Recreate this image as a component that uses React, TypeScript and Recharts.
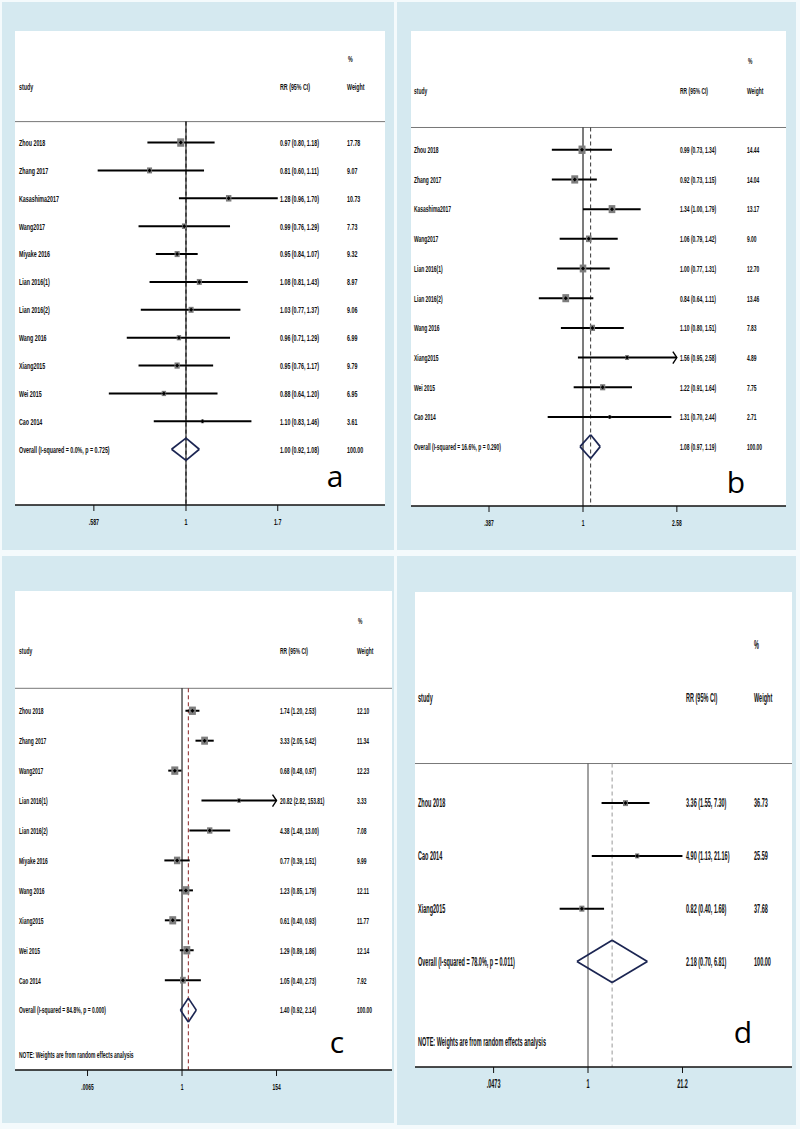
import React from "react";
import { ComposedChart, Scatter, XAxis, YAxis, ReferenceLine } from "recharts";

const FONT = "'Liberation Sans', Arial, sans-serif";

// ---- panel a ----
const studiesA = ["Zhou 2018", "Zhang 2017", "Kasashima2017", "Wang2017", "Miyake 2016", "Lian 2016(1)", "Lian 2016(2)", "Wang 2016", "Xiang2015", "Wei 2015", "Cao 2014"];
const rrA = [0.97, 0.81, 1.28, 0.99, 0.95, 1.08, 1.03, 0.96, 0.95, 0.88, 1.1];
const lowA = [0.8, 0.6, 0.96, 0.76, 0.84, 0.81, 0.77, 0.71, 0.76, 0.64, 0.83];
const highA = [1.18, 1.11, 1.7, 1.29, 1.07, 1.43, 1.37, 1.29, 1.17, 1.2, 1.46];
const weightA = [17.78, 9.07, 10.73, 7.73, 9.32, 8.97, 9.06, 6.99, 9.79, 6.95, 3.61];
const overallA = [1.0, 0.92, 1.08];
const ticksA = [0.587, 1, 1.7];
const tickLabelsA = [".587", "1", "1.7"];
const truncatedA: string[] = [];

// ---- panel b ----
const studiesB = ["Zhou 2018", "Zhang 2017", "Kasashima2017", "Wang2017", "Lian 2016(1)", "Lian 2016(2)", "Wang 2016", "Xiang2015", "Wei 2015", "Cao 2014"];
const rrB = [0.99, 0.92, 1.34, 1.06, 1.0, 0.84, 1.1, 1.56, 1.22, 1.31];
const lowB = [0.73, 0.73, 1.0, 0.79, 0.77, 0.64, 0.8, 0.95, 0.91, 0.7];
const highB = [1.34, 1.15, 1.79, 1.42, 1.31, 1.11, 1.51, 2.58, 1.64, 2.44];
const weightB = [14.44, 14.04, 13.17, 9.0, 12.7, 13.46, 7.83, 4.89, 7.75, 2.71];
const overallB = [1.08, 0.97, 1.19];
const ticksB = [0.387, 1, 2.58];
const tickLabelsB = [".387", "1", "2.58"];
const truncatedB = ["Xiang2015"];

// ---- panel c ----
const studiesC = ["Zhou 2018", "Zhang 2017", "Wang2017", "Lian 2016(1)", "Lian 2016(2)", "Miyake 2016", "Wang 2016", "Xiang2015", "Wei 2015", "Cao 2014"];
const rrC = [1.74, 3.33, 0.68, 20.82, 4.38, 0.77, 1.23, 0.61, 1.29, 1.05];
const lowC = [1.2, 2.05, 0.48, 2.82, 1.48, 0.39, 0.85, 0.4, 0.89, 0.4];
const highC = [2.53, 5.42, 0.97, 153.81, 13.0, 1.51, 1.79, 0.93, 1.86, 2.73];
const weightC = [12.1, 11.34, 12.23, 3.33, 7.08, 9.99, 12.11, 11.77, 12.14, 7.92];
const overallC = [1.4, 0.92, 2.14];
const ticksC = [0.0065, 1, 154];
const tickLabelsC = [".0065", "1", "154"];
const truncatedC = ["Lian 2016(1)"];

// ---- panel d ----
const studiesD = ["Zhou 2018", "Cao 2014", "Xiang2015"];
const rrD = [3.36, 4.9, 0.82];
const lowD = [1.55, 1.13, 0.4];
const highD = [7.3, 21.16, 1.68];
const weightD = [36.73, 25.59, 37.68];
const overallD = [2.18, 0.7, 6.81];
const ticksD = [0.0473, 1, 21.2];
const tickLabelsD = [".0473", "1", "21.2"];
const truncatedD: string[] = [];

const NOTE = "NOTE: Weights are from random effects analysis";

interface Panel {
  letter: string;
  frame: [number, number, number, number];
  left: number;
  top: number;
  width: number;
  plotH: number;
  xDomain: [number, number];
  xTicks: number[];
  xTickLabels: string[];
  yDomain: [number, number];
  studies: string[];
  rr: number[];
  low: number[];
  high: number[];
  weight: number[];
  overall: number[];
  truncated: string[];
  overallLabel: string;
  note?: number;
  cols: number[];
  fs: number;
  sx: number;
  boxK: number;
  nullColor: string;
  dashColor: string;
  letterPos: [number, number];
}

const panels: Panel[] = [
  {
    letter: "a", frame: [2, 2, 392, 548], left: 15, top: 31, width: 370, plotH: 474,
    xDomain: [0.372, 3.161], xTicks: ticksA, xTickLabels: tickLabelsA, yDomain: [-4, 13],
    studies: studiesA, rr: rrA, low: lowA, high: highA, weight: weightA, overall: overallA, truncated: truncatedA,
    overallLabel: "Overall  (I-squared = 0.0%, p = 0.725)",
    cols: [4, 265, 332, 333], fs: 9.5, sx: 0.56, boxK: 1.66, nullColor: "#111", dashColor: "#111",
    letterPos: [335, 487],
  },
  {
    letter: "b", frame: [397, 2, 399, 548], left: 411, top: 31, width: 375, plotH: 475,
    xDomain: [0.176, 7.77], xTicks: ticksB, xTickLabels: tickLabelsB, yDomain: [-4, 12],
    studies: studiesB, rr: rrB, low: lowB, high: highB, weight: weightB, overall: overallB, truncated: truncatedB,
    overallLabel: "Overall  (I-squared = 16.6%, p = 0.290)",
    cols: [3, 269, 336, 337], fs: 9.5, sx: 0.52, boxK: 1.84, nullColor: "#111", dashColor: "#333",
    letterPos: [736, 493],
  },
  {
    letter: "c", frame: [2, 556, 392, 567], left: 15, top: 591, width: 377, plotH: 479,
    xDomain: [0.000136, 72600], xTicks: ticksC, xTickLabels: tickLabelsC, yDomain: [-4, 12],
    studies: studiesC, rr: rrC, low: lowC, high: highC, weight: weightC, overall: overallC, truncated: truncatedC,
    overallLabel: "Overall  (I-squared = 84.8%, p = 0.000)", note: 11.5,
    cols: [4, 265, 342, 343], fs: 9.5, sx: 0.52, boxK: 2.0, nullColor: "#111", dashColor: "#8b2323",
    letterPos: [337, 1053],
  },
  {
    letter: "d", frame: [397, 556, 399, 569], left: 415, top: 592, width: 377, plotH: 475,
    xDomain: [0.00373, 730], xTicks: ticksD, xTickLabels: tickLabelsD, yDomain: [-4, 5],
    studies: studiesD, rr: rrD, low: lowD, high: highD, weight: weightD, overall: overallD, truncated: truncatedD,
    overallLabel: "Overall  (I-squared = 78.0%, p = 0.011)", note: 4.53,
    cols: [3, 271, 339, 339], fs: 12, sx: 0.46, boxK: 0.82, nullColor: "#555", dashColor: "#999",
    letterPos: [743, 1043],
  },
];

const fmt = (v: number) => v.toFixed(2);

function NarrowText({ x, y, fs, sx, anchor = "start", children }: any) {
  return (
    <text
      transform={`translate(${x},${y}) scale(${sx},1)`}
      fontSize={fs}
      fontFamily={FONT}
      fontWeight="bold"
      fill="#111"
      textAnchor={anchor}
      dy="0.35em"
    >
      {children}
    </text>
  );
}

function ForestPanel({ p }: { p: Panel }) {
  const n = p.studies.length;
  const rows: { pos: number; study?: string; rr?: string; weight?: string; pct?: string }[] = [
    { pos: -3, pct: "%" },
    { pos: -2, study: "study", rr: "RR (95% CI)", weight: "Weight" },
    ...p.studies.map((s, i) => ({
      pos: i,
      study: s,
      rr: `${fmt(p.rr[i])} (${fmt(p.low[i])}, ${fmt(p.high[i])})`,
      weight: fmt(p.weight[i]),
    })),
    {
      pos: n,
      study: p.overallLabel,
      rr: `${fmt(p.overall[0])} (${fmt(p.overall[1])}, ${fmt(p.overall[2])})`,
      weight: "100.00",
    },
  ];
  if (p.note !== undefined) rows.push({ pos: p.note, study: NOTE });

  const points = p.studies.map((s, i) => ({ x: p.rr[i], y: i, w: p.weight[i] }));
  const maxTick = p.xTicks[p.xTicks.length - 1];
  const headY = -0.75;
  const yEnd = p.yDomain[1];
  const [oe, ol, oh] = p.overall;
  const dh = 0.4;
  // the y axis takes 1px at the left, so text columns shift by one
  const c = p.cols.map((v) => v + 1);

  const rowTick = (t: any) => {
    const r = rows.find((row) => Math.abs(row.pos - t.payload.value) < 1e-6);
    if (!r) return <g />;
    return (
      <g>
        {r.study && <NarrowText x={c[0]} y={t.y} fs={p.fs} sx={p.sx}>{r.study}</NarrowText>}
        {r.rr && <NarrowText x={c[1]} y={t.y} fs={p.fs} sx={p.sx}>{r.rr}</NarrowText>}
        {r.weight && <NarrowText x={c[2]} y={t.y} fs={p.fs} sx={p.sx}>{r.weight}</NarrowText>}
        {r.pct && <NarrowText x={c[3]} y={t.y} fs={p.fs} sx={p.sx}>{r.pct}</NarrowText>}
      </g>
    );
  };

  const xTick = (t: any) => {
    const idx = p.xTicks.findIndex((v) => Math.abs(v - t.payload.value) / v < 1e-6);
    return (
      <g>
        <NarrowText x={t.x} y={t.y + 9} fs={p.fs} sx={p.sx} anchor="middle">
          {idx >= 0 ? p.xTickLabels[idx] : ""}
        </NarrowText>
      </g>
    );
  };

  const box = (s: any) => {
    const side = p.boxK * Math.sqrt(s.payload.w);
    const h = side * 1.2;
    return (
      <g>
        <rect x={s.cx - side / 2} y={s.cy - h / 2} width={side} height={h} fill="#7d7d7d" />
        <path d={`M${s.cx - 2},${s.cy}L${s.cx},${s.cy - 2}L${s.cx + 2},${s.cy}L${s.cx},${s.cy + 2}Z`} fill="#000" />
      </g>
    );
  };

  const arrowLine = (l: any) => (
    <g>
      <line x1={l.x1} y1={l.y1} x2={l.x2} y2={l.y2} stroke="#000" strokeWidth={2} />
      <path d={`M${l.x2 - 4},${l.y2 - 6}L${l.x2},${l.y2}L${l.x2 - 4},${l.y2 + 6}`} fill="none" stroke="#000" strokeWidth={1.4} />
    </g>
  );

  const diamond = [
    [ol, n, oe, n - dh],
    [oe, n - dh, oh, n],
    [oh, n, oe, n + dh],
    [oe, n + dh, ol, n],
  ];

  return (
    <ComposedChart
      width={p.width + 1}
      height={p.plotH + 30}
      margin={{ top: 0, right: 0, bottom: 0, left: 0 }}
      style={{ position: "absolute", left: p.left - 1, top: p.top }}
    >
      <XAxis
        type="number"
        dataKey="x"
        scale="log"
        domain={p.xDomain}
        allowDataOverflow
        ticks={p.xTicks}
        interval={0}
        height={30}
        tickSize={6}
        tickMargin={2}
        axisLine={{ stroke: "#111", strokeWidth: 1.6 }}
        tickLine={{ stroke: "#111", strokeWidth: 1 }}
        tick={xTick}
      />
      <YAxis
        type="number"
        dataKey="y"
        domain={p.yDomain}
        reversed
        allowDataOverflow
        ticks={rows.map((r) => r.pos)}
        interval={0}
        width={1}
        axisLine={false}
        tickLine={false}
        tick={rowTick}
      />
      <ReferenceLine y={headY} stroke="#777" strokeWidth={1} />
      <ReferenceLine segment={[{ x: 1, y: headY }, { x: 1, y: yEnd }]} stroke={p.nullColor} strokeWidth={1.1} />
      <ReferenceLine
        segment={[{ x: oe, y: headY }, { x: oe, y: yEnd }]}
        stroke={p.dashColor}
        strokeWidth={1}
        strokeDasharray="4 3"
      />
      {p.studies.map((s, i) => {
        const cut = p.truncated.includes(s);
        return (
          <ReferenceLine
            key={s + i}
            segment={[{ x: p.low[i], y: i }, { x: cut ? maxTick : p.high[i], y: i }]}
            stroke="#000"
            strokeWidth={2}
            shape={cut ? arrowLine : undefined}
          />
        );
      })}
      <Scatter data={points} shape={box} isAnimationActive={false} />
      {diamond.map((d, i) => (
        <ReferenceLine
          key={"dm" + i}
          segment={[{ x: d[0], y: d[1] }, { x: d[2], y: d[3] }]}
          stroke="#1b2552"
          strokeWidth={1.7}
        />
      ))}
    </ComposedChart>
  );
}

export default function App() {
  return (
    <div style={{ position: "absolute", left: 0, top: 0, width: 800, height: 1129, background: "#f4fafc" }}>
      {panels.map((p) => (
        <div
          key={"f" + p.letter}
          style={{
            position: "absolute",
            left: p.frame[0],
            top: p.frame[1],
            width: p.frame[2],
            height: p.frame[3],
            background: "#d5e9f0",
          }}
        />
      ))}
      {panels.map((p) => (
        <div
          key={"w" + p.letter}
          style={{ position: "absolute", left: p.left, top: p.top, width: p.width, height: p.plotH, background: "#fff" }}
        />
      ))}
      {panels.map((p) => (
        <ForestPanel key={p.letter} p={p} />
      ))}
      <svg width={800} height={1129} style={{ position: "absolute", left: 0, top: 0, pointerEvents: "none" }}>
        {panels.map((p) => (
          <text
            key={"l" + p.letter}
            x={p.letterPos[0]}
            y={p.letterPos[1]}
            fontSize={30}
            fontFamily="'Open Sans', 'Liberation Sans', sans-serif"
            textAnchor="middle"
            fill="#000"
          >
            {p.letter}
          </text>
        ))}
      </svg>
    </div>
  );
}
